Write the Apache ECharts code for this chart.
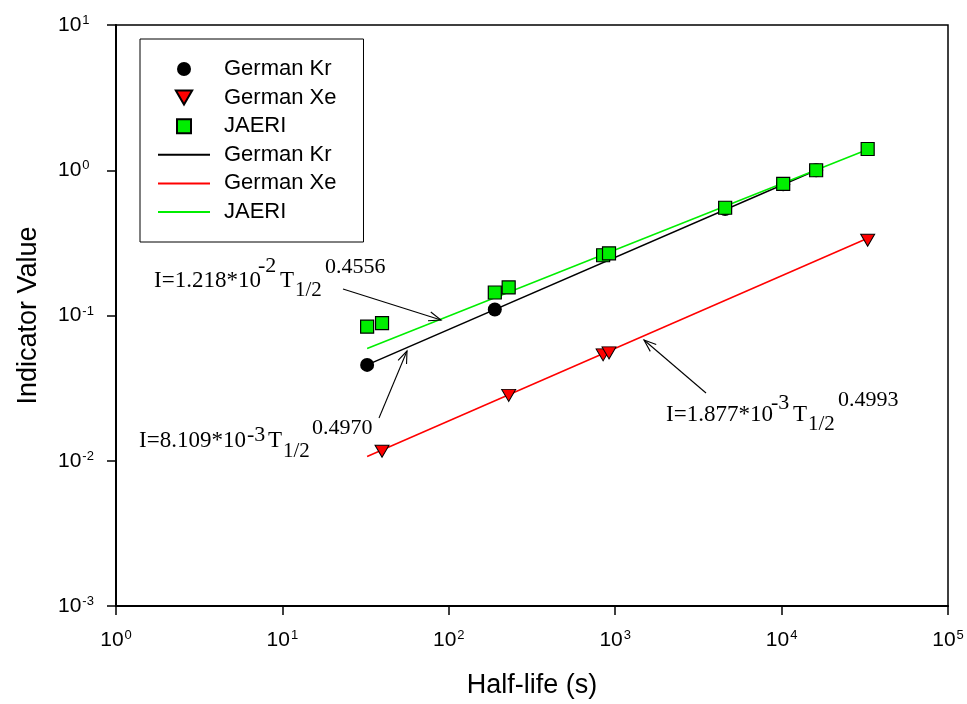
<!DOCTYPE html>
<html>
<head>
<meta charset="utf-8">
<script src="https://cdn.jsdelivr.net/npm/echarts@6/dist/echarts.min.js"></script>
<style>
  html, body { margin: 0; padding: 0; background: #fff; }
  #chart { width: 967px; height: 704px; }
</style>
</head>
<body>
<div id="chart"></div>
<script>
// Measured points (half-life in seconds, indicator value)
const krHalfLife = [32.3, 189, 4578, 10224, 16128];
const krIndicator = [0.0457, 0.110, 0.54, 0.80, 1.00];

const xeHalfLife = [39.7, 229, 846, 918, 32904];
const xeIndicator = [0.01164, 0.0282, 0.0536, 0.0553, 0.330];

const jaeriHalfLife = [32.3, 39.7, 189, 229, 846, 918, 4578, 10224, 16128, 32904];
const jaeriIndicator = [0.0838, 0.0885, 0.144, 0.156, 0.260, 0.268, 0.552, 0.807, 1.00, 1.40];

// Power-law fit lines, end points
const krFitX = [32.3, 16128];
const krFitY = [0.0457, 1.00];
const xeFitX = [32.3, 32904];
const xeFitY = [0.0107, 0.340];
const jaeriFitX = [32.3, 32904];
const jaeriFitY = [0.0593, 1.39];

const seriesNames = ['German Kr', 'German Xe', 'JAERI'];
const xAxisTitle = 'Half-life (s)';
const yAxisTitle = 'Indicator Value';

const GREEN = '#00ee00';
const RED = '#ff0000';
const SANS = 'Liberation Sans, Arial, sans-serif';
const SERIF = 'Liberation Serif, Times New Roman, serif';
const DOWN_TRIANGLE = 'path://M0,0L14,0L7,12Z';
const SQUARE = 'path://M0,0L12,0L12,12L0,12Z';

function pairs(xs, ys) { return xs.map((x, i) => [x, ys[i]]); }

function powerLabel(value) {
  const e = Math.round(Math.log10(value));
  return '{b|10}{s|' + e + '}';
}
const tickRich = {
  b: { fontSize: 21, fontFamily: SANS, color: '#000', lineHeight: 22 },
  s: { fontSize: 13, fontFamily: SANS, color: '#000', lineHeight: 13, verticalAlign: 'top', padding: [0, 0, 0, 1] }
};

const chart = echarts.init(document.getElementById('chart'), null, { renderer: 'canvas' });

// Equation labels drawn as pieces so that sub/superscripts sit on their own baselines
function piece(text, x, baseline, size) {
  return {
    type: 'text', x: x, y: baseline - 0.3 * size, z: 20,
    style: { text: text, fontSize: size, fontFamily: SERIF, fill: '#000', align: 'left', verticalAlign: 'middle' }
  };
}
function equation(x, y, coef, exp10, exponent, layout) {
  return [
    piece('I=' + coef + '*10', x, y, 23),
    piece(exp10, x + layout[0], y + layout[1], 22),
    piece('T', x + layout[2], y, 23),
    piece('1/2', x + layout[3], y + layout[4], 21),
    piece(exponent, x + layout[5], y + layout[6], 22)
  ];
}
function arrow(x1, y1, x2, y2) {
  const a = Math.atan2(y2 - y1, x2 - x1);
  const L = 13, w = 0.36;
  const h1 = [x2 - L * Math.cos(a - w), y2 - L * Math.sin(a - w)];
  const h2 = [x2 - L * Math.cos(a + w), y2 - L * Math.sin(a + w)];
  const st = { stroke: '#000', lineWidth: 1.1, fill: null };
  return [
    { type: 'line', z: 20, shape: { x1: x1, y1: y1, x2: x2, y2: y2 }, style: st },
    { type: 'polyline', z: 20, shape: { points: [h1, [x2, y2], h2] }, style: st }
  ];
}

const graphics = [].concat(
  equation(154, 288, '1.218', '-2', '0.4556', [104, -15, 126, 141, 9, 171, -14]),
  arrow(343, 289, 441, 320),
  equation(139, 448, '8.109', '-3', '0.4970', [108, -6, 129, 144, 10, 173, -13]),
  arrow(379, 418, 407, 351),
  equation(666, 422, '1.877', '-3', '0.4993', [105, -12, 127, 142, 9, 172, -15]),
  arrow(706, 393, 644, 340)
);

const hidden = 'rgba(0,0,0,0)';

const option = {
  backgroundColor: '#fff',
  animation: false,
  grid: {
    left: 116, right: 19, top: 25, bottom: 96,
    show: true, borderColor: '#000', borderWidth: 1.5, backgroundColor: 'transparent'
  },
  legend: {
    orient: 'vertical',
    left: 140, top: 39,
    padding: [19, 27, 19, 17],
    itemWidth: 52, itemHeight: 14, itemGap: 6.6,
    symbolKeepAspect: true,
    borderColor: '#000', borderWidth: 1, backgroundColor: '#fff',
    z: 10,
    data: [
      { name: 'German Kr' },
      { name: 'German Xe', icon: DOWN_TRIANGLE },
      { name: 'JAERI', icon: SQUARE },
      { name: 'German Kr fit' },
      { name: 'German Xe fit' },
      { name: 'JAERI fit' }
    ],
    formatter: name => name.replace(' fit', ''),
    textStyle: { fontSize: 22, fontFamily: SANS, color: '#000', lineHeight: 22, padding: [0, 0, 0, 9] }
  },
  xAxis: {
    type: 'log', logBase: 10, min: 1, max: 100000, splitNumber: 5,
    name: xAxisTitle, nameLocation: 'middle', nameGap: 66,
    nameTextStyle: { fontSize: 27, fontFamily: SANS, color: '#000' },
    axisLine: { show: true, lineStyle: { color: '#000', width: 2 } },
    axisTick: { show: true, inside: false, length: 9, lineStyle: { color: '#000', width: 1.5 } },
    minorTick: { show: false },
    splitLine: { show: false },
    axisLabel: { margin: 23, formatter: powerLabel, rich: tickRich }
  },
  yAxis: {
    type: 'log', logBase: 10, min: 0.001, max: 10, splitNumber: 4,
    name: yAxisTitle, nameLocation: 'middle', nameGap: 74,
    nameTextStyle: { fontSize: 27, fontFamily: SANS, color: '#000' },
    axisLine: { show: true, lineStyle: { color: '#000', width: 2 } },
    axisTick: { show: true, inside: false, length: 9, lineStyle: { color: '#000', width: 1.5 } },
    minorTick: { show: false },
    splitLine: { show: false },
    axisLabel: { margin: 58, align: 'left', formatter: powerLabel, rich: tickRich }
  },
  series: [
    {
      name: 'German Kr fit', type: 'line', data: pairs(krFitX, krFitY),
      symbol: 'none', showSymbol: false, z: 2,
      lineStyle: { color: '#000', width: 1.5 }, itemStyle: { color: hidden, borderWidth: 0 }
    },
    {
      name: 'German Xe fit', type: 'line', data: pairs(xeFitX, xeFitY),
      symbol: 'none', showSymbol: false, z: 2,
      lineStyle: { color: RED, width: 1.5 }, itemStyle: { color: hidden, borderWidth: 0 }
    },
    {
      name: 'JAERI fit', type: 'line', data: pairs(jaeriFitX, jaeriFitY),
      symbol: 'none', showSymbol: false, z: 2,
      lineStyle: { color: GREEN, width: 1.5 }, itemStyle: { color: hidden, borderWidth: 0 }
    },
    {
      name: 'German Kr', type: 'scatter', data: pairs(krHalfLife, krIndicator),
      symbol: 'circle', symbolSize: 14, symbolKeepAspect: true, z: 3,
      itemStyle: { color: '#000', borderColor: '#000', borderWidth: 0, opacity: 1 }
    },
    {
      name: 'German Xe', type: 'scatter', data: pairs(xeHalfLife, xeIndicator),
      symbol: 'triangle', symbolRotate: 180, symbolSize: [14, 12], symbolKeepAspect: true, z: 3,
      itemStyle: { color: RED, borderColor: '#000', borderWidth: 1, opacity: 1 }
    },
    {
      name: 'JAERI', type: 'scatter', data: pairs(jaeriHalfLife, jaeriIndicator),
      symbol: 'rect', symbolSize: 13, symbolKeepAspect: true, z: 4,
      itemStyle: { color: GREEN, borderColor: '#000', borderWidth: 1.2, opacity: 1 }
    }
  ],
  graphic: graphics
};

chart.setOption(option);
</script>
</body>
</html>
